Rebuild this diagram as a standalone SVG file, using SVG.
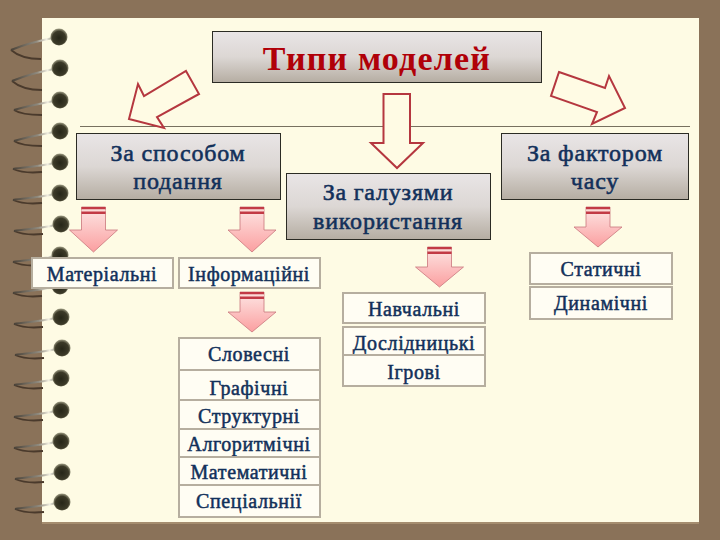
<svg xmlns="http://www.w3.org/2000/svg" width="720" height="540" viewBox="0 0 720 540">
<style>
text{font-family:"Liberation Serif","Times New Roman",serif;text-anchor:middle;fill:#12305a;stroke:#12305a}
.t{font-size:24px;letter-spacing:.8px;stroke-width:.55px}
.s{font-size:20px;letter-spacing:.6px;stroke-width:.5px}
.title{font-size:34px;font-weight:bold;fill:#b00008;stroke:none;letter-spacing:1.2px}
.box{fill:url(#g);stroke:#2b2b24;stroke-width:1}
.cell{fill:#fffdf3;stroke:#b6ae9f;stroke-width:2}
.big{fill:#fffbe4;stroke:#b5373f;stroke-width:2;stroke-linejoin:miter}
.small{fill:url(#p);stroke:#c9767c;stroke-width:.8}
.up{fill:none;stroke:url(#r);stroke-width:2.2}
.lo{fill:none;stroke:#4a3a2c;stroke-width:1.8}
</style>
<defs>
<linearGradient id="g" x1="0" y1="0" x2="0" y2="1"><stop offset="0" stop-color="#e9e5e6"/><stop offset=".5" stop-color="#dcd7d4"/><stop offset="1" stop-color="#b5ada2"/></linearGradient>
<linearGradient id="p" x1="0" y1="0" x2="0" y2="1"><stop offset="0" stop-color="#fde6e4"/><stop offset="1" stop-color="#fb9fa0"/></linearGradient>
<linearGradient id="r" x1="0" y1="0" x2="1" y2="0"><stop offset="0" stop-color="#4a4238"/><stop offset=".6" stop-color="#8f8a7e"/><stop offset=".85" stop-color="#f2efe2"/><stop offset="1" stop-color="#8a8a78"/></linearGradient>
<radialGradient id="h" cx=".5" cy=".55" r=".55"><stop offset="0" stop-color="#262618"/><stop offset=".7" stop-color="#3c3a28"/><stop offset="1" stop-color="#a3a188"/></radialGradient>
<circle id="hole" cx="60" cy="0" r="8.500" fill="url(#h)"/>
<g id="ringA"><path class="lo" d="M12 13C20 20 32 22 42 22"/><path class="up" d="M12 13C24 8 38 4 54 1"/><use href="#hole"/></g>
<g id="ringB"><path class="lo" d="M14 10C20 14 32 15 42 15"/><path class="up" d="M14 10C24 7 38 4 54 1"/><use href="#hole"/></g>
<g id="ringC"><path class="lo" d="M13 7C20 10 32 11 42 10"/><path class="up" d="M13 7C24 5 38 5 54 1"/><use href="#hole"/></g>
<g id="arr"><path class="small" d="M-12 0H12V23H24L0 45L-24 23H-12Z"/><rect x="-12" y="0" width="24" height="2.500" fill="#c23a45"/><rect x="-12" y="2.500" width="24" height="2" fill="#fbdcd8"/><rect x="-12" y="4.500" width="24" height="2.500" fill="#c23a45"/></g>
<g id="arr2"><path class="small" d="M-12 0H12V20H24L0 40L-24 20H-12Z"/><rect x="-12" y="0" width="24" height="2.500" fill="#c23a45"/><rect x="-12" y="2.500" width="24" height="2" fill="#fbdcd8"/><rect x="-12" y="4.500" width="24" height="2.500" fill="#c23a45"/></g>
</defs>
<rect width="720" height="540" fill="#8a7259"/>
<rect x="42" y="18" width="657" height="504" fill="#fefbe4"/>
<rect x="42" y="522" width="657" height="2" fill="#a58d6f"/>
<g id="binding">
<use href="#ringA" x="-1" y="37"/><use href="#ringA" y="68"/><use href="#ringB" y="100"/><use href="#ringB" y="131"/><use href="#ringC" y="162"/><use href="#ringC" y="193"/><use href="#ringC" x="1" y="224"/><use href="#ringC" y="255"/><use href="#ringC" y="286"/><use href="#ringC" x="1" y="317"/><use href="#ringC" x="2" y="348"/><use href="#ringC" x="1" y="378"/><use href="#ringC" x="1" y="410"/><use href="#ringC" x="1" y="441"/><use href="#ringC" x="2" y="472"/><use href="#ringC" x="2" y="502"/>
</g>
<path d="M80 126.500H690" stroke="#77705f" stroke-width="1"/>
<g id="connectors">
<path class="big" d="M186 71L199 94L157 117L164 128L129 119L138 84L144 96Z"/>
<path class="big" d="M383.500 94H410V143H423L397 168L371 143H383.500Z"/>
<path class="big" d="M559 72L605 88L609 76L625 108L592 124L597 112L551 96Z"/>
<use href="#arr" x="93.500" y="207"/>
<use href="#arr" x="252" y="207"/>
<use href="#arr2" x="252" y="292"/>
<use href="#arr2" x="439.500" y="247"/>
<use href="#arr2" x="598" y="207"/>
</g>
<g id="n-title"><rect class="box" x="212.500" y="31.500" width="329" height="51"/><text class="title" x="377" y="70">Типи моделей</text></g>
<g id="n-sposib"><rect class="box" x="76.500" y="133.500" width="204" height="66"/><text class="t" x="178" y="161">За способом</text><text class="t" x="178" y="189">подання</text></g>
<g id="n-galuz"><rect class="box" x="286.500" y="173.500" width="204" height="66"/><text class="t" x="388" y="200">За галузями</text><text class="t" x="388" y="229">використання</text></g>
<g id="n-faktor"><rect class="box" x="501.500" y="133.500" width="187" height="66"/><text class="t" x="595" y="161">За фактором</text><text class="t" x="595" y="189">часу</text></g>
<g id="n-mat"><rect class="cell" x="32" y="258" width="141" height="30"/><text class="s" x="102" y="281">Матеріальні</text></g>
<g id="n-inf"><rect class="cell" x="179" y="258" width="141" height="30"/><text class="s" x="249" y="281">Інформаційні</text></g>
<g id="n-slov"><rect class="cell" x="179" y="338" width="141" height="32"/><text class="s" x="249" y="361">Словесні</text></g>
<g id="n-graf"><rect class="cell" x="179" y="370" width="141" height="30"/><text class="s" x="249" y="395">Графічні</text></g>
<g id="n-strukt"><rect class="cell" x="179" y="400" width="141" height="29"/><text class="s" x="249" y="423">Структурні</text></g>
<g id="n-alg"><rect class="cell" x="179" y="429" width="141" height="28"/><text class="s" x="249" y="451">Алгоритмічні</text></g>
<g id="n-matem"><rect class="cell" x="179" y="457" width="141" height="28"/><text class="s" x="249" y="479">Математичні</text></g>
<g id="n-spec"><rect class="cell" x="179" y="485" width="141" height="32"/><text class="s" x="249" y="508">Спеціальнії</text></g>
<g id="n-navch"><rect class="cell" x="343" y="293" width="142" height="30"/><text class="s" x="414" y="316">Навчальні</text></g>
<g id="n-dosl"><rect class="cell" x="343" y="327" width="142" height="28"/><text class="s" x="414" y="350">Дослідницькі</text></g>
<g id="n-igr"><rect class="cell" x="343" y="355" width="142" height="31"/><text class="s" x="414" y="379">Ігрові</text></g>
<g id="n-stat"><rect class="cell" x="530" y="253" width="142" height="31"/><text class="s" x="601" y="276">Статичні</text></g>
<g id="n-dyn"><rect class="cell" x="530" y="287" width="142" height="32"/><text class="s" x="601" y="310">Динамічні</text></g>
</svg>
